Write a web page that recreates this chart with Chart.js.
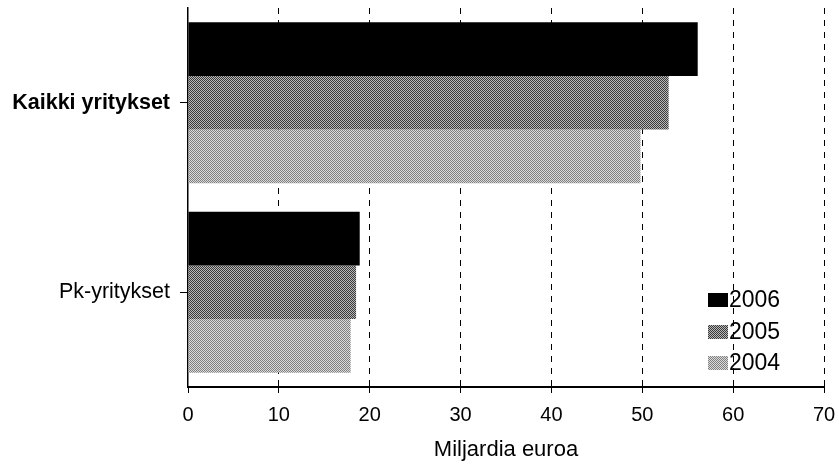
<!DOCTYPE html>
<html>
<head>
<meta charset="utf-8">
<script src="https://cdn.jsdelivr.net/npm/chart.js@4"></script>
<style>
  html, body { margin: 0; padding: 0; background: #fff; }
  #wrap { width: 839px; height: 467px; }
</style>
</head>
<body>
<div id="wrap"><canvas id="myChart" width="839" height="467"></canvas></div>
<script>
// data
const categories = ['Kaikki yritykset', 'Pk-yritykset'];
const years = ['2006', '2005', '2004'];
const v2006 = [56.1, 18.9];
const v2005 = [52.9, 18.5];
const v2004 = [49.8, 17.9];
const xTicks = [0, 10, 20, 30, 40, 50, 60, 70];

const FONT = "'Liberation Sans', Arial, sans-serif";

// checker pattern to mimic the scanned grey fills
function makePattern(dark, light) {
    const c = document.createElement('canvas');
    c.width = 2; c.height = 2;
    const g = c.getContext('2d');
    g.fillStyle = light; g.fillRect(0, 0, 2, 2);
    g.fillStyle = dark;
    g.fillRect(0, 0, 1, 1);
    g.fillRect(1, 1, 1, 1);
    return g.createPattern(c, 'repeat');
}
const fill2006 = '#000000';
const fill2005 = makePattern('#3a3a3a', '#b8b8b8');
const fill2004 = makePattern('#808080', '#dadada');
const fills = [fill2006, fill2005, fill2004];

// legend drawn inside the plot, lower right
const insideLegend = {
    id: 'insideLegend',
    afterDraw(chart) {
        const ctx = chart.ctx;
        const area = chart.chartArea;
        const bx = area.right - 116;
        const rows = [area.bottom - 87, area.bottom - 55, area.bottom - 24];
        ctx.save();
        ctx.font = '23px ' + FONT;
        ctx.textBaseline = 'middle';
        ctx.textAlign = 'left';
        years.forEach((y, i) => {
            ctx.fillStyle = fills[i];
            ctx.fillRect(bx, rows[i] - 7, 20, 14);
            ctx.fillStyle = '#000';
            ctx.fillText(y, bx + 21, rows[i] + 1);
        });
        ctx.restore();
    }
};

const myChart = new Chart(document.getElementById('myChart'), {
    type: 'bar',
    data: {
        labels: categories,
        datasets: [
            { label: years[0], data: v2006, backgroundColor: fill2006 },
            { label: years[1], data: v2005, backgroundColor: fill2005 },
            { label: years[2], data: v2004, backgroundColor: fill2004 }
        ]
    },
    options: {
        indexAxis: 'y',
        responsive: false,
        animation: false,
        layout: { padding: { top: 8, right: 15, left: 0, bottom: 0 } },
        datasets: {
            bar: { categoryPercentage: 0.85, barPercentage: 1.0, borderWidth: 0 }
        },
        scales: {
            x: {
                min: 0,
                max: 70,
                afterBuildTicks: (s) => { s.ticks = xTicks.map(v => ({ value: v })); },
                afterFit: (s) => { s.height = 80; s.paddingLeft = 0; s.paddingRight = 0; },
                border: { display: true, color: '#000', width: 2, dash: [6, 6] },
                grid: {
                    color: (c) => (c.tick && c.tick.value === 0 ? 'rgba(0,0,0,0)' : '#000'),
                    tickColor: '#000',
                    lineWidth: 1,
                    tickBorderDash: [],
                    tickLength: 6,
                    drawTicks: true
                },
                ticks: {
                    color: '#000',
                    padding: 10,
                    font: { family: FONT, size: 20 }
                },
                title: {
                    display: true,
                    text: 'Miljardia euroa',
                    color: '#000',
                    font: { family: FONT, size: 22 },
                    padding: { top: 4, bottom: 4 }
                }
            },
            y: {
                afterFit: (s) => { s.width = 188; s.paddingTop = 0; s.paddingBottom = 0; },
                border: { display: true, color: '#000', width: 1.5 },
                grid: {
                    offset: false,
                    drawOnChartArea: false,
                    drawTicks: true,
                    tickLength: 8,
                    color: '#000'
                },
                ticks: {
                    color: '#000',
                    padding: 10,
                    font: (c) => ({
                        family: FONT,
                        size: 21.5,
                        weight: c.index === 0 ? 'bold' : 'normal'
                    })
                }
            }
        },
        plugins: {
            legend: { display: false },
            tooltip: { enabled: false }
        }
    },
    plugins: [insideLegend]
});
</script>
</body>
</html>
